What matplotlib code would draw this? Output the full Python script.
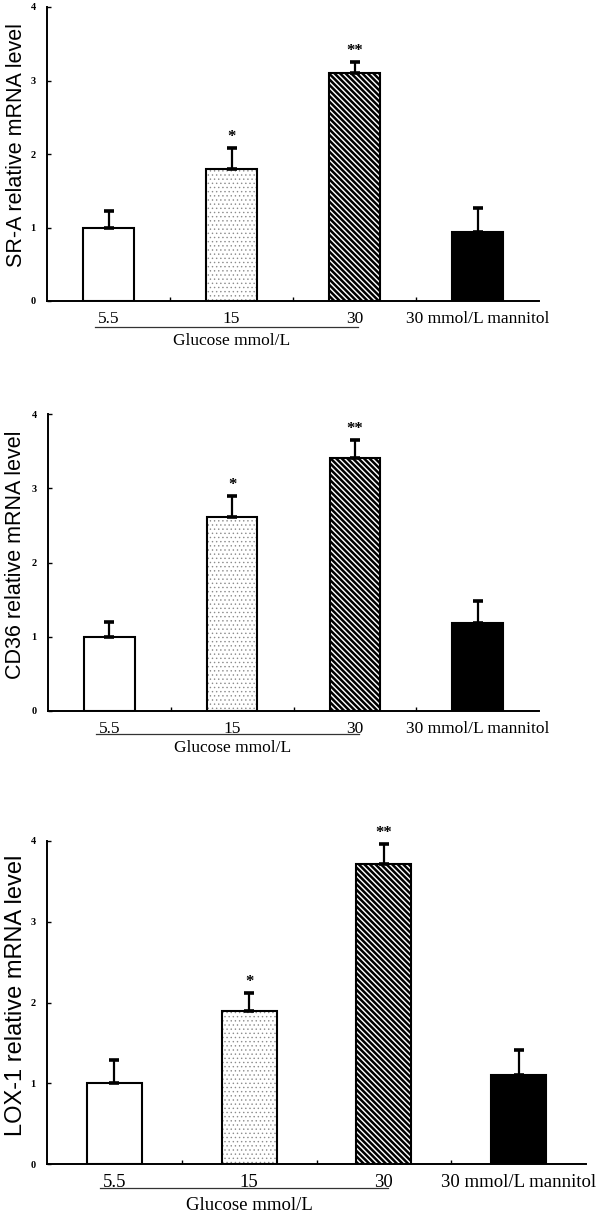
import matplotlib
matplotlib.use("Agg")
import matplotlib.pyplot as plt
import matplotlib.transforms as mtransforms
import numpy as np

# groups on the x axis
groups = ["5.5", "15", "30", "30 mmol/L mannitol"]
glucose_label = "Glucose mmol/L"

# relative mRNA levels (mean, upper error)
sra_mean = [1.0, 1.8, 3.1, 0.94]
sra_err = [0.22, 0.28, 0.15, 0.33]
cd36_mean = [1.0, 2.61, 3.41, 1.19]
cd36_err = [0.20, 0.29, 0.24, 0.29]
lox1_mean = [1.0, 1.9, 3.71, 1.10]
lox1_err = [0.29, 0.22, 0.25, 0.31]
stars = ["", "*", "**", ""]

ylabels = ["SR-A relative mRNA level", "CD36 relative mRNA level",
           "LOX-1 relative mRNA level"]

SERIF = ["Liberation Serif", "DejaVu Serif"]
SANS = ["Liberation Sans", "DejaVu Sans"]

fig = plt.figure(figsize=(6, 12.18), dpi=100)

# panel layout in pixels: left, right, top, zero line
panels = [
    dict(mean=sra_mean, err=sra_err, ylabel=ylabels[0], px=(47, 539, 7, 301),
         fs=12.5, ul=26, gl=40, ylab_x=17, ylab_y=145, ylfs=15.5),
    dict(mean=cd36_mean, err=cd36_err, ylabel=ylabels[1], px=(48, 539, 414, 711),
         fs=12.5, ul=23, gl=37, ylab_x=16, ylab_y=555, ylfs=15.5),
    dict(mean=lox1_mean, err=lox1_err, ylabel=ylabels[2], px=(47, 586, 841, 1164),
         fs=13.5, ul=24, gl=41, ylab_x=16, ylab_y=995, ylfs=17),
]

W, H = 600, 1218
faces = ["white", "white", "white", "black"]
hatches = [None, "....", "\\" * 6, None]
hatch_cols = [None, "#8c8c8c", "black", None]
hatch_lws = [None, 0.5, 1.8, None]

for p in panels:
    l, r, t, b = p["px"]
    ax = fig.add_axes([l / W, 1 - b / H, (r - l) / W, (b - t) / H])
    x = np.arange(len(groups))
    width = 0.41

    for i in range(len(groups)):
        if hatches[i]:
            with plt.rc_context({"hatch.linewidth": hatch_lws[i]}):
                hb = ax.bar(x[i], p["mean"][i], width=width, color="white",
                            edgecolor=hatch_cols[i], linewidth=0, hatch=hatches[i])
            for patch in hb:
                if hasattr(patch, "set_hatch_linewidth"):
                    patch.set_hatch_linewidth(hatch_lws[i])
            ax.bar(x[i], p["mean"][i], width=width, fill=False,
                   edgecolor="black", linewidth=1.5)
        else:
            ax.bar(x[i], p["mean"][i], width=width, color=faces[i],
                   edgecolor="black", linewidth=1.5)

    ax.errorbar(x, p["mean"], yerr=[np.zeros(len(x)), p["err"]], fmt="none",
                ecolor="black", elinewidth=1.6, capsize=3.5, capthick=2.6, zorder=3)

    for i, s in enumerate(stars):
        if s:
            ax.annotate(s, (x[i], p["mean"][i] + p["err"][i]), xytext=(0, 8),
                        textcoords="offset points", ha="center", va="center",
                        fontsize=12, fontweight="bold", family=SERIF)

    ax.set_xlim(-0.5, len(groups) - 0.5)
    ax.set_ylim(0, 4)
    ax.spines["top"].set_visible(False)
    ax.spines["right"].set_visible(False)
    for sp in ("left", "bottom"):
        ax.spines[sp].set_linewidth(1.4)

    ax.set_yticks([0, 1, 2, 3, 4])
    ax.set_yticklabels(["0", "1", "2", "3", "4"], fontsize=7.5,
                       fontweight="bold", family=SERIF)
    ax.tick_params(axis="y", direction="in", length=3, width=1, pad=8)

    ax.set_xticks(x)
    ax.set_xticklabels(groups, fontsize=p["fs"], family=SERIF)
    ax.set_xticks(x[:-1] + 0.5, minor=True)
    ax.tick_params(axis="x", which="major", length=0, pad=7)
    ax.tick_params(axis="x", which="minor", direction="in", length=3, width=1)

    # underline for the glucose groups and its label
    ul_tr = mtransforms.offset_copy(ax.get_xaxis_transform(), fig=fig,
                                    x=0, y=-p["ul"] * 72 / 100, units="points")
    ax.plot([-0.11, 2.03], [0, 0], color="#333333", linewidth=0.9,
            transform=ul_tr, clip_on=False)
    gl_tr = mtransforms.offset_copy(ax.get_xaxis_transform(), fig=fig,
                                    x=0, y=-p["gl"] * 72 / 100, units="points")
    ax.text(1.0, 0, glucose_label, transform=gl_tr, ha="center", va="center",
            fontsize=p["fs"], family=SERIF)

    fig.text(p["ylab_x"] / W, 1 - p["ylab_y"] / H, p["ylabel"], rotation=90,
             ha="center", va="center", fontsize=p["ylfs"], family=SANS)

fig.savefig("out.png", dpi=100)
